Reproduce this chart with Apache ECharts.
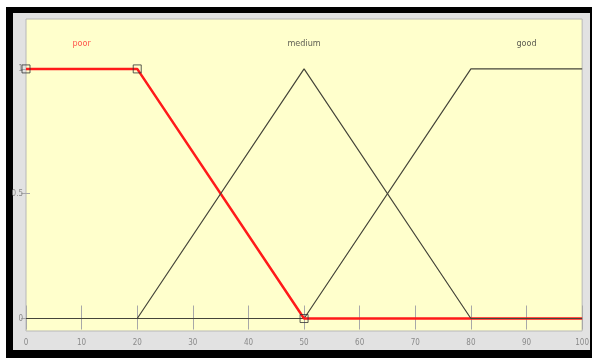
<!DOCTYPE html>
<html>
<head>
<meta charset="utf-8">
<script src="https://cdn.jsdelivr.net/npm/echarts@6/dist/echarts.min.js"></script>
<style>
html,body{margin:0;padding:0;background:#fff;}
#chart{width:592px;height:358px;}
</style>
</head>
<body>
<div id="chart"></div>
<script>
// Membership functions
const poorX = [0, 20, 50, 100];
const poorY = [1, 1, 0, 0];
const mediumX = [0, 20, 50, 80, 100];
const mediumY = [0, 0, 1, 0, 0];
const goodX = [0, 50, 80, 100];
const goodY = [0, 0, 1, 1];
const mfNames = ['poor', 'medium', 'good'];
const mfNameX = [10, 50, 90];
const mfNameY = 1.1;
const xTicks = [0, 10, 20, 30, 40, 50, 60, 70, 80, 90, 100];
const yTicks = [0, 0.5, 1];

const pts = (xs, ys) => xs.map((x, i) => [x, ys[i]]);

const chart = echarts.init(document.getElementById('chart'), null, {renderer: 'canvas'});
const narrow = 'Liberation Sans Narrow, DejaVu Sans Condensed, sans-serif';
const tickLabel = {fontSize: 8, color: '#8a8a8a', fontFamily: narrow};

chart.setOption({
  animation: false,
  backgroundColor: '#ffffff',
  graphic: [
    {type: 'rect', z: -10, shape: {x: 6, y: 7, width: 586, height: 351}, style: {fill: '#000'}, silent: true},
    {type: 'rect', z: -9, shape: {x: 13, y: 13, width: 577, height: 337}, style: {fill: '#e2e2e2'}, silent: true}
  ],
  grid: {left: 26, top: 19, width: 557, height: 312, show: true, backgroundColor: '#ffffcc', borderColor: '#b8b8b8', borderWidth: 1},
  xAxis: [
    {
      type: 'value', min: 0, max: 100, interval: 10, position: 'bottom',
      axisLine: {show: false}, splitLine: {show: false},
      axisTick: {show: true, inside: true, length: 13, lineStyle: {color: '#a8a8a8'}},
      axisLabel: Object.assign({margin: 8, customValues: xTicks}, tickLabel)
    },
    {
      type: 'value', min: 0, max: 100, interval: 10, position: 'top',
      axisLine: {show: false}, splitLine: {show: false},
      axisTick: {show: true, inside: true, length: 11, lineStyle: {color: '#a8a8a8'}},
      axisLabel: {show: false}
    }
  ],
  yAxis: [
    {
      type: 'value', min: -0.05, max: 1.2, position: 'left',
      axisLine: {show: false}, splitLine: {show: false},
      axisTick: {show: true, inside: true, length: 4, customValues: yTicks, lineStyle: {color: '#a8a8a8'}},
      axisLabel: Object.assign({margin: 3, customValues: yTicks}, tickLabel)
    },
    {
      type: 'value', min: -0.05, max: 1.2, position: 'right',
      axisLine: {show: false}, splitLine: {show: false},
      axisTick: {show: true, inside: true, length: 5, customValues: yTicks, lineStyle: {color: '#a8a8a8'}},
      axisLabel: {show: false}
    }
  ],
  series: [
    {type: 'line', name: 'good', data: pts(goodX, goodY), symbol: 'none', lineStyle: {color: '#45453a', width: 1.2}, z: 2},
    {type: 'line', name: 'poor', data: pts(poorX, poorY), symbol: 'none', lineStyle: {color: '#ff1a1a', width: 2.5}, z: 3},
    {type: 'line', name: 'medium', data: pts(mediumX, mediumY), symbol: 'none', lineStyle: {color: '#45453a', width: 1.2}, z: 4},
    {type: 'scatter', data: pts(poorX.slice(0, 3), poorY.slice(0, 3)), symbol: 'rect', symbolSize: 8,
      itemStyle: {color: 'rgba(0,0,0,0)', borderColor: '#333', borderWidth: 1}, z: 5},
    {type: 'scatter', symbolSize: 0, z: 6,
      data: mfNames.map((n, i) => ({value: [mfNameX[i], mfNameY], name: n,
        label: {color: i === 0 ? '#ff2a2a' : '#333'}})),
      label: {show: true, position: 'inside', formatter: p => p.name, fontSize: 9,
        fontFamily: narrow}}
  ]
});
</script>
</body>
</html>
